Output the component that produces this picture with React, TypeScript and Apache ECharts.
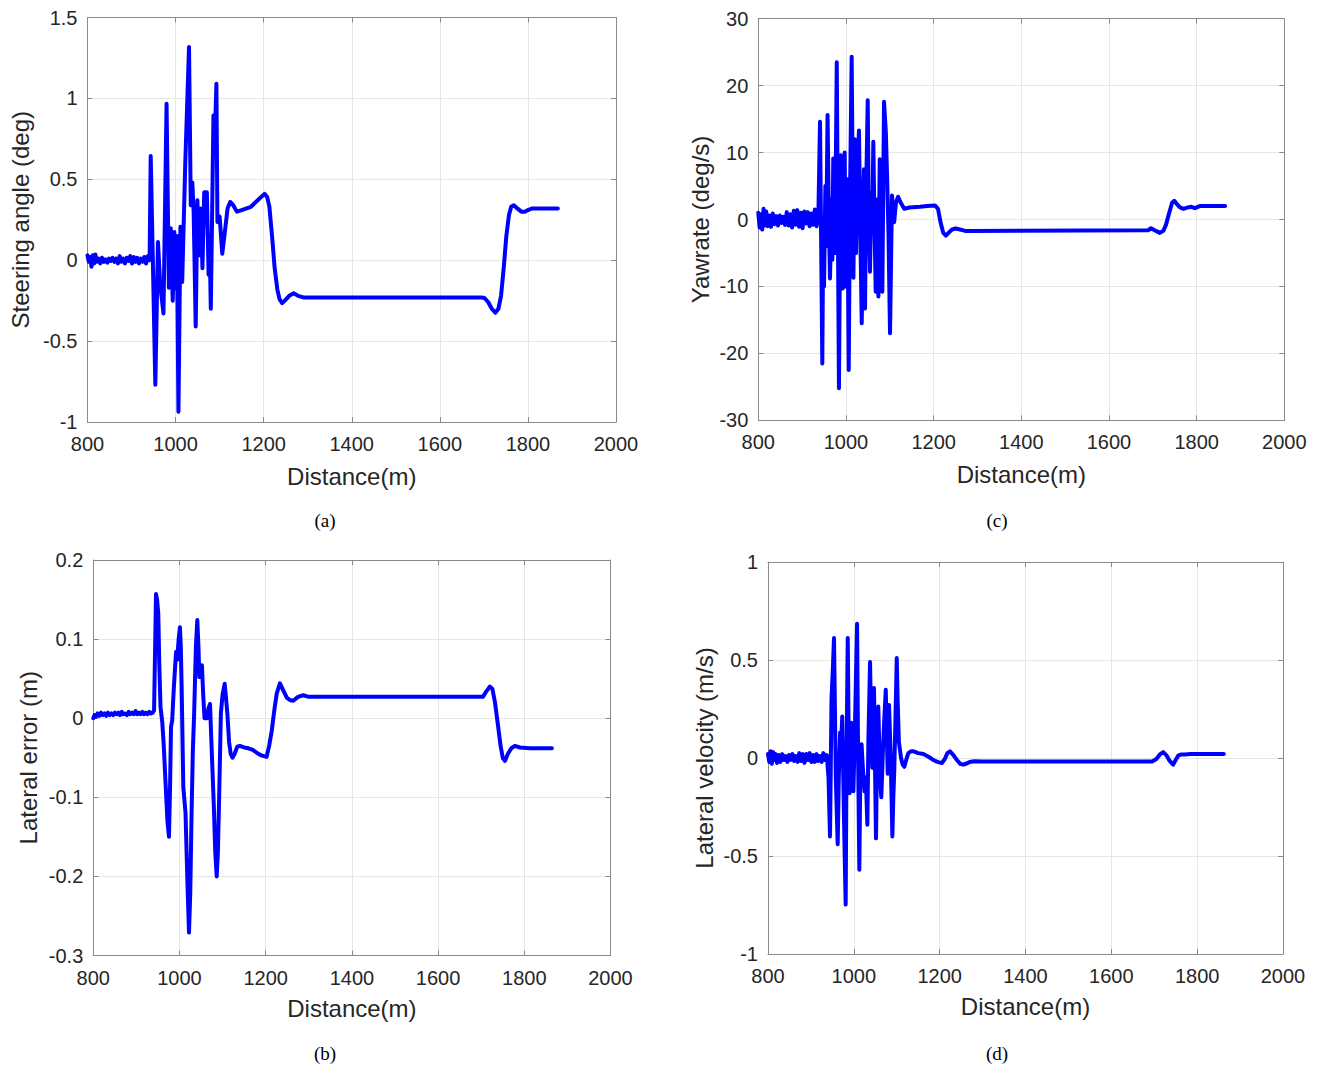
import React, { useEffect, useRef } from "react";
import * as echarts from "echarts";

// ---------- data ----------
const distanceTicks = [800, 1000, 1200, 1400, 1600, 1800, 2000];

const steeringTicks = [-1, -0.5, 0, 0.5, 1, 1.5];
const yawTicks = [-30, -20, -10, 0, 10, 20, 30];
const latErrTicks = [-0.3, -0.2, -0.1, 0, 0.1, 0.2];
const latVelTicks = [-1, -0.5, 0, 0.5, 1];

// (a) Steering angle (deg) vs distance (m)
const steeringAngle: [number, number][] = [
  [800, 0.03], [803, -0.01], [806, 0.02], [809, -0.04], [812, 0.03], [815, -0.02], [818, 0.035], [821, -0.01],
  [825, 0.01], [829, -0.02], [833, 0.015], [837, -0.01], [841, 0.005], [845, -0.015], [849, 0.01], [853, -0.005],
  [857, 0.015], [861, -0.01], [865, 0.01], [869, -0.02], [873, 0.025], [877, -0.01], [881, 0.01], [885, -0.02],
  [889, 0.015], [893, -0.005], [897, 0.025], [901, -0.02], [905, 0.02], [909, -0.01], [913, 0.015], [917, -0.02],
  [921, 0.01], [925, -0.01], [929, 0.02], [933, -0.02], [937, 0.025], [941, 0.0],
  [943.5, 0.644], [948, 0.05], [954, -0.77], [960, 0.113], [965, -0.15], [972.5, -0.33], [979.5, 0.967],
  [984.8, -0.17], [989, 0.197], [993.5, -0.25], [997, 0.175], [1000, -0.175], [1003, 0.15], [1006.5, -0.936],
  [1011, 0.206], [1015, -0.134], [1022, 0.6], [1030.5, 1.317], [1034.5, 0.34], [1038, 0.48], [1041, 0.3],
  [1045.7, -0.41], [1049.5, 0.37], [1053, 0.03], [1057, 0.32], [1061, -0.05], [1065, 0.42], [1071, 0.42],
  [1075, -0.09], [1077, 0.15], [1080, -0.3], [1086, 0.895], [1089, 0.75], [1092.7, 1.09], [1095, 0.236],
  [1100, 0.27], [1106, 0.04], [1113, 0.2], [1118, 0.32], [1124, 0.36], [1131, 0.34], [1139, 0.3], [1150, 0.31],
  [1171, 0.33], [1190, 0.38], [1202, 0.41], [1208, 0.39], [1213, 0.33], [1219, 0.15], [1225, -0.05],
  [1231, -0.18], [1236, -0.24], [1242, -0.265], [1248, -0.25], [1258, -0.22], [1268, -0.205], [1278, -0.22],
  [1290, -0.23], [1695, -0.23], [1702, -0.235], [1710, -0.26], [1718, -0.3], [1726, -0.325], [1733, -0.3],
  [1739, -0.22], [1745, -0.05], [1751, 0.15], [1757, 0.28], [1762, 0.33], [1768, 0.34], [1776, 0.32],
  [1785, 0.3], [1793, 0.3], [1800, 0.31], [1810, 0.32], [1868, 0.32],
];

// (c) Yawrate (deg/s) vs distance (m)
const yawRate: [number, number][] = [
  [800, 1.0], [803, -1.2], [806, 0.8], [809, -1.5], [812, 1.6], [815, -0.9], [818, 1.2], [821, -1.0],
  [825, 0.6], [829, -1.1], [833, 0.9], [837, -0.7], [841, 0.5], [845, -0.9], [849, 0.6], [853, -0.5],
  [857, 0.4], [861, -0.8], [865, 1.1], [869, -0.9], [873, 0.8], [877, -1.2], [881, 1.3], [885, -0.8],
  [889, 1.4], [893, -1.1], [897, 1.0], [901, -1.3], [905, 1.2], [909, -0.6], [913, 1.1], [917, -1.0],
  [921, 0.9], [925, -0.8], [929, 1.5], [933, -1.0], [937, 0.5],
  [940.8, 14.6], [946, -21.5], [948, -3], [950, -10], [953, 5], [955, -4], [958, 15.6], [961, 0], [963.6, -8.8],
  [967, 3], [969, -6], [971, 9.1], [975, -5], [979, 23.5], [984, -25.2], [988, 9.6], [990, -4], [992.5, -10.3],
  [995, 4], [997, 10], [1000, -10], [1003, 6], [1006.3, -22.5], [1009, 2], [1013, 24.3], [1017, -8.7],
  [1020, 12], [1023, -5], [1026, 8], [1029.7, 13.3], [1033, -3], [1036, -15.5], [1039, 2], [1041, 7.5],
  [1043.5, -13.3], [1046, 4], [1049.6, 17.8], [1052, 1], [1054.8, -7.8], [1058, 4], [1060, -2], [1062.4, 11.6],
  [1065, 0], [1067.8, -10.8], [1071, 3], [1074, -11.5], [1077, 9], [1080, -3], [1083, -10.8], [1086.8, 17.6],
  [1091, 13], [1094, 6], [1097, -2], [1100.5, -17], [1105, 3.6], [1110, -0.4], [1114, 2.5], [1119, 3.4], [1125, 2.5],
  [1133, 1.6], [1145, 1.8], [1169, 1.9], [1185, 2.0], [1203, 2.1], [1210, 1.6], [1216, -0.5], [1222, -2.0],
  [1228, -2.4], [1234, -2.0], [1242, -1.5], [1250, -1.35], [1260, -1.5], [1272, -1.7], [1283, -1.7],
  [1690, -1.6], [1696, -1.3], [1704, -1.6], [1716, -2.0], [1724, -1.7], [1730, -0.8], [1737, 0.9],
  [1744, 2.5], [1749, 2.8], [1755, 2.3], [1762, 1.8], [1770, 1.6], [1780, 1.8], [1788, 1.9], [1796, 1.7],
  [1807, 2.0], [1865, 2.0],
];

// (b) Lateral error (m) vs distance (m)
const lateralError: [number, number][] = [
  [800, 0.0], [803, 0.004], [806, 0.002], [810, 0.006], [814, 0.003], [818, 0.007], [822, 0.004], [826, 0.006],
  [830, 0.003], [834, 0.007], [838, 0.004], [842, 0.006], [846, 0.004], [850, 0.007], [854, 0.005], [858, 0.007],
  [862, 0.004], [866, 0.008], [870, 0.005], [874, 0.006], [878, 0.004], [882, 0.008], [886, 0.005], [890, 0.007],
  [894, 0.005], [898, 0.009], [902, 0.005], [906, 0.007], [910, 0.005], [914, 0.008], [918, 0.005], [922, 0.007],
  [926, 0.005], [930, 0.008], [934, 0.006], [938, 0.007],
  [941, 0.01], [945.5, 0.157], [948, 0.15], [950.8, 0.132], [953, 0.07], [956, 0.014], [960, -0.005],
  [963, -0.03], [967.5, -0.08], [972, -0.13], [975.6, -0.15], [978, -0.09], [980.3, -0.011], [983, -0.003],
  [987, 0.04], [992, 0.084], [994.7, 0.074], [998, 0.1], [1001, 0.115], [1003, 0.09], [1005, 0.04],
  [1008.8, -0.087], [1014, -0.12], [1018, -0.2], [1022, -0.271], [1025, -0.22], [1028, -0.121], [1031, -0.04],
  [1034, 0.006], [1038, 0.09], [1041.3, 0.124], [1044, 0.09], [1046, 0.052], [1049, 0.06], [1052, 0.067],
  [1055, 0.03], [1058, 0.0], [1064, 0.0], [1067, 0.012], [1070.8, 0.018], [1074, -0.03], [1079.6, -0.11],
  [1083, -0.17], [1086.3, -0.2], [1089, -0.17], [1092, -0.1], [1096, 0.006], [1100, 0.03], [1104.8, 0.0435],
  [1108, 0.025], [1111, 0.006], [1115, -0.03], [1118.8, -0.045], [1123, -0.05], [1128, -0.045], [1134, -0.036],
  [1140, -0.035], [1150, -0.037], [1160, -0.038], [1170, -0.04], [1180, -0.044], [1190, -0.047], [1202, -0.049],
  [1208, -0.035], [1214, -0.016], [1220, 0.01], [1225.5, 0.031], [1233, 0.044], [1241, 0.035], [1249, 0.026],
  [1256, 0.023], [1264, 0.022], [1275, 0.027], [1287, 0.029], [1300, 0.027], [1704, 0.027], [1712, 0.034],
  [1720, 0.04], [1726, 0.037], [1732, 0.02], [1738, -0.005], [1745, -0.035], [1750, -0.05], [1755, -0.054],
  [1762, -0.045], [1770, -0.038], [1778, -0.035], [1790, -0.037], [1813, -0.038], [1864, -0.038],
];

// (d) Lateral velocity (m/s) vs distance (m)
const lateralVelocity: [number, number][] = [
  [800, 0.02], [803, -0.02], [806, 0.035], [809, -0.03], [812, 0.03], [815, -0.01], [818, 0.02], [821, -0.025],
  [825, 0.015], [829, -0.02], [833, 0.02], [837, -0.01], [841, 0.01], [845, -0.02], [849, 0.015], [853, -0.01],
  [857, 0.02], [861, -0.015], [865, 0.01], [869, -0.02], [873, 0.025], [877, -0.015], [881, 0.02], [885, -0.025],
  [889, 0.02], [893, -0.01], [897, 0.025], [901, -0.02], [905, 0.015], [909, -0.02], [913, 0.02], [917, -0.015],
  [921, 0.01], [925, -0.02], [929, 0.025], [933, -0.01], [937, 0.015],
  [941, -0.1], [944.5, -0.4], [948, 0.3], [951, 0.45], [953.8, 0.612], [958, -0.1], [962.4, -0.44], [965, -0.1],
  [968, 0.13], [970, 0.05], [973, 0.212], [977, -0.3], [981, -0.748], [983, 0.0], [985.8, 0.612], [988, 0.1],
  [990, -0.18], [994, 0.18], [997, -0.05], [999, -0.17], [1003, 0.2], [1007.5, 0.685], [1010, 0.0],
  [1012.8, -0.57], [1015, -0.1], [1018, 0.07], [1021, -0.05], [1025, -0.17], [1028, -0.1], [1031.5, -0.34],
  [1034, 0.1], [1037.8, 0.49], [1040, 0.2], [1043, -0.05], [1047, 0.357], [1051.6, -0.41], [1054, 0.0],
  [1057, 0.263], [1061, -0.1], [1064, -0.2], [1068, 0.05], [1071, 0.2], [1074.4, 0.348], [1077, 0.1],
  [1079, -0.08], [1082, 0.27], [1086, 0.0], [1089.8, -0.4], [1092, -0.2], [1094, -0.08], [1097, 0.2],
  [1100, 0.51], [1102, 0.3], [1105, 0.08], [1110, 0.0], [1114, -0.035], [1117.7, -0.045], [1122, -0.01],
  [1127, 0.025], [1133, 0.034], [1139, 0.034], [1150, 0.025], [1162, 0.02], [1175, 0.005], [1185, -0.01],
  [1195, -0.02], [1205, -0.026], [1212, -0.005], [1218, 0.025], [1224, 0.034], [1232, 0.015], [1240, -0.01],
  [1248, -0.03], [1255, -0.034], [1263, -0.028], [1270, -0.02], [1280, -0.017], [1300, -0.018], [1695, -0.018],
  [1705, -0.005], [1714, 0.02], [1721, 0.03], [1728, 0.015], [1736, -0.015], [1744, -0.034], [1750, -0.01],
  [1756, 0.012], [1762, 0.018], [1772, 0.018], [1784, 0.02], [1800, 0.02], [1862, 0.02],
];

const xAxisTitle = "Distance(m)";

// ---------- layout / styling ----------
const TEXT = "#262626";
const BOX = "#8a8a8a";
const GRIDLINE = "#e6e6e6";
const SANS = '"Liberation Sans", Arial, Helvetica, sans-serif';
const SERIF = '"Liberation Serif", "Times New Roman", serif';

type Panel = {
  data: [number, number][];
  yTicks: number[];
  yName: string;
  grid: { left: number; top: number; width: number; height: number };
  yNameGap: number;
  xNameGap: number;
  caption: string;
  captionPos: [number, number];
};

const panels: Panel[] = [
  {
    data: steeringAngle, yTicks: steeringTicks, yName: "Steering angle (deg)",
    grid: { left: 87.5, top: 17.5, width: 528.5, height: 404.5 },
    yNameGap: 55, xNameGap: 42, caption: "(a)", captionPos: [325, 520],
  },
  {
    data: yawRate, yTicks: yawTicks, yName: "Yawrate (deg/s)",
    grid: { left: 758.3, top: 18.7, width: 526, height: 401.6 },
    yNameGap: 46, xNameGap: 42, caption: "(c)", captionPos: [997, 520],
  },
  {
    data: lateralError, yTicks: latErrTicks, yName: "Lateral error (m)",
    grid: { left: 93.3, top: 560, width: 517.2, height: 395.5 },
    yNameGap: 53, xNameGap: 41, caption: "(b)", captionPos: [325, 1053],
  },
  {
    data: lateralVelocity, yTicks: latVelTicks, yName: "Lateral velocity (m/s)",
    grid: { left: 768, top: 562, width: 515, height: 392 },
    yNameGap: 52, xNameGap: 40, caption: "(d)", captionPos: [997, 1053],
  },
];

const plain = (v: number) => String(+v.toFixed(6));

function buildOption() {
  const grids: any[] = [];
  const xAxes: any[] = [];
  const yAxes: any[] = [];
  const series: any[] = [];
  const graphics: any[] = [];

  const xMin = distanceTicks[0];
  const xMax = distanceTicks[distanceTicks.length - 1];
  const xInt = distanceTicks[1] - distanceTicks[0];

  panels.forEach((p, i) => {
    const yMin = p.yTicks[0];
    const yMax = p.yTicks[p.yTicks.length - 1];
    const yInt = +(p.yTicks[1] - p.yTicks[0]).toFixed(6);
    grids.push({ ...p.grid, show: false, containLabel: false });

    const tick = { show: true, inside: true, length: 5, lineStyle: { color: BOX, width: 1 } };
    const line = { show: true, lineStyle: { color: BOX, width: 1 } };

    xAxes.push({
      type: "value", gridIndex: i, min: xMin, max: xMax, interval: xInt, position: "bottom",
      axisLine: { ...line, onZero: false }, axisTick: tick,
      axisLabel: { color: TEXT, fontSize: 20, fontFamily: SANS, margin: 12, formatter: plain },
      splitLine: { show: true, lineStyle: { color: GRIDLINE, width: 1 } },
      name: xAxisTitle, nameLocation: "middle", nameGap: p.xNameGap,
      nameTextStyle: { color: TEXT, fontSize: 24, fontFamily: SANS },
    });
    xAxes.push({
      type: "value", gridIndex: i, min: xMin, max: xMax, interval: xInt, position: "top",
      axisLine: { ...line, onZero: false }, axisTick: tick, axisLabel: { show: false },
      splitLine: { show: false },
    });
    yAxes.push({
      type: "value", gridIndex: i, min: yMin, max: yMax, interval: yInt, position: "left",
      axisLine: { ...line, onZero: false }, axisTick: tick,
      axisLabel: { color: TEXT, fontSize: 20, fontFamily: SANS, margin: 10, formatter: plain },
      splitLine: { show: true, lineStyle: { color: GRIDLINE, width: 1 } },
      name: p.yName, nameLocation: "middle", nameGap: p.yNameGap, nameRotate: 90,
      nameTextStyle: { color: TEXT, fontSize: 24, fontFamily: SANS },
    });
    yAxes.push({
      type: "value", gridIndex: i, min: yMin, max: yMax, interval: yInt, position: "right",
      axisLine: { ...line, onZero: false }, axisTick: tick, axisLabel: { show: false },
      splitLine: { show: false },
    });

    series.push({
      type: "line",
      xAxisIndex: i * 2,
      yAxisIndex: i * 2,
      data: p.data,
      showSymbol: false,
      symbol: "none",
      lineStyle: { color: "#0000ff", width: 4, join: "round", cap: "round" },
      itemStyle: { color: "#0000ff" },
      clip: true,
      z: 3,
    });

    graphics.push({
      type: "text",
      x: p.captionPos[0],
      y: p.captionPos[1],
      style: {
        text: p.caption,
        fill: "#000",
        fontSize: 19,
        fontFamily: SERIF,
        align: "center",
        verticalAlign: "middle",
      },
    });
  });

  return {
    animation: false,
    backgroundColor: "#ffffff",
    grid: grids,
    xAxis: xAxes,
    yAxis: yAxes,
    series,
    graphic: graphics,
  };
}

export default function App() {
  const ref = useRef<HTMLDivElement>(null);
  useEffect(() => {
    document.body.style.margin = "0";
    if (!ref.current) return;
    const chart = echarts.init(ref.current, undefined, { renderer: "svg" });
    chart.setOption(buildOption() as any);
    return () => chart.dispose();
  }, []);
  return <div ref={ref} style={{ width: 1324, height: 1068, background: "#fff" }} />;
}
